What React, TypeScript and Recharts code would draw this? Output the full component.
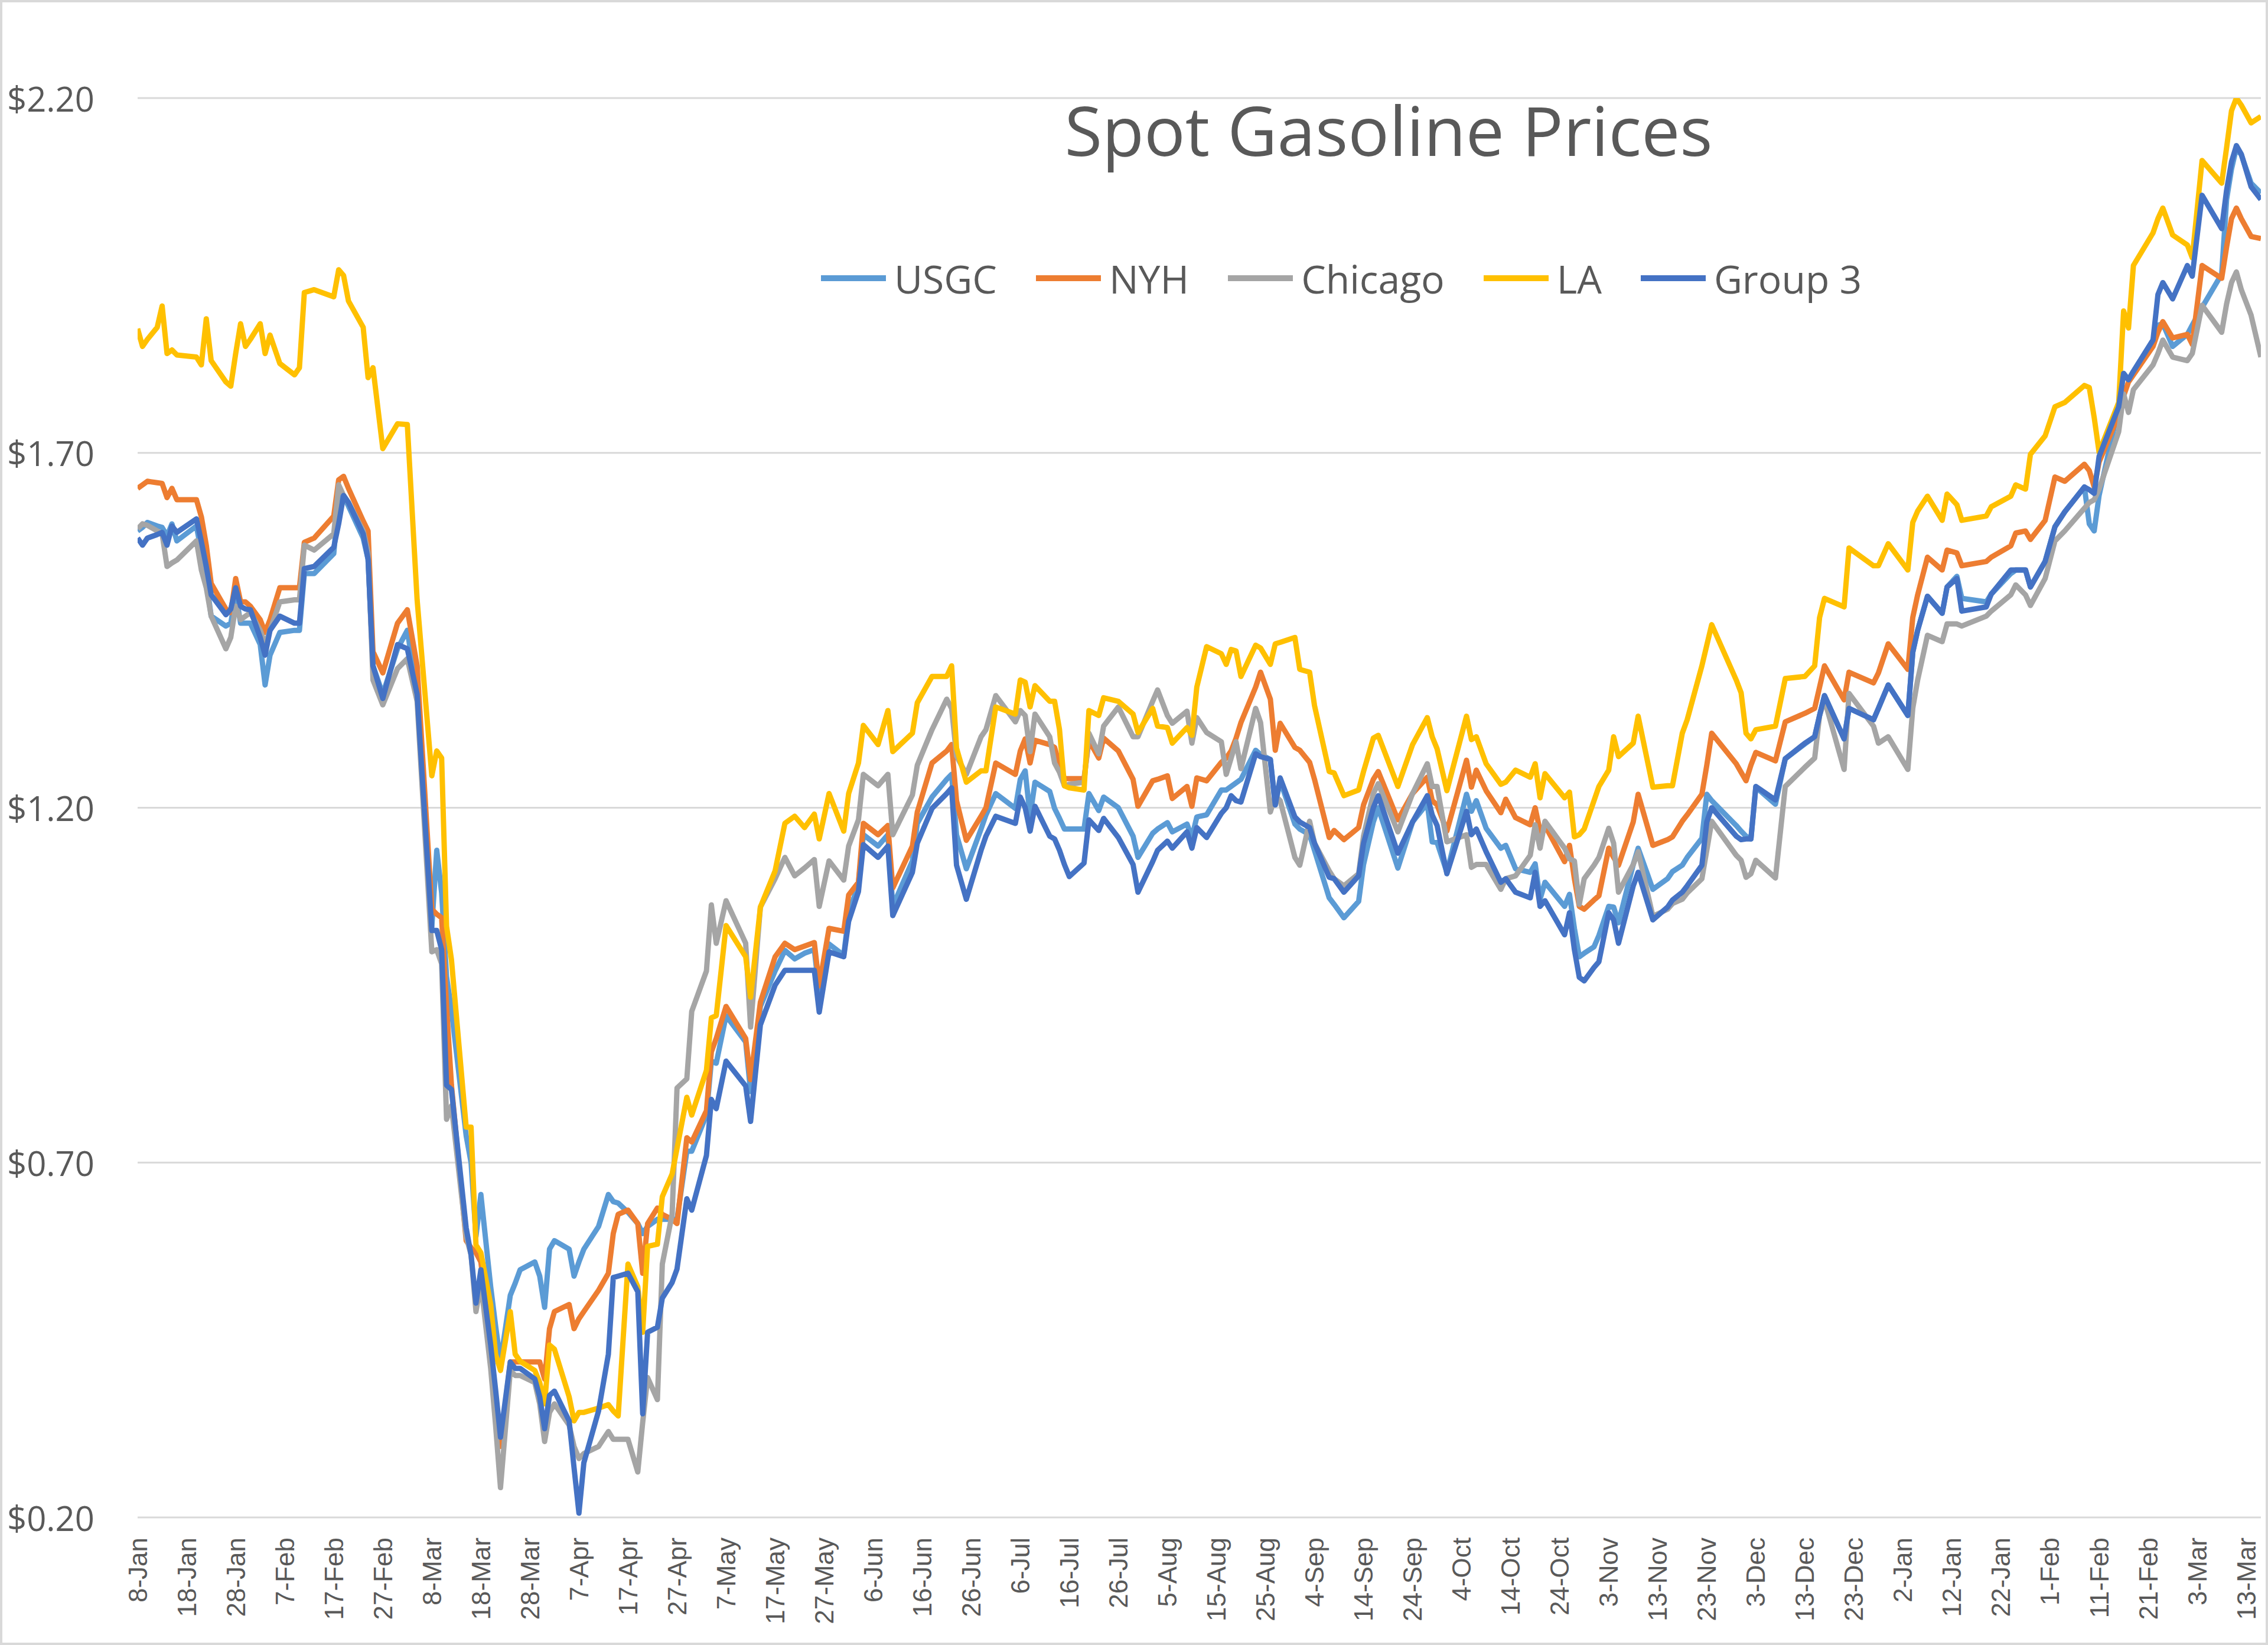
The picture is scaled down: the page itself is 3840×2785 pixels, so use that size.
import React from "react";
import { LineChart, Line, XAxis, YAxis, CartesianGrid } from "recharts";

// calendar days since 8-Jan-2020, one entry per reading taken off the chart
const dayIndex = [
  0, 1, 2, 4, 5, 6, 7, 8, 12, 13,
  14, 15, 18, 19, 20, 21, 22, 23, 25, 26,
  27, 29, 32, 33, 34, 36, 40, 41, 42, 43,
  46, 47, 48, 50, 53, 55, 57, 60, 61, 62,
  63, 64, 67, 68, 69, 70, 72, 73, 74, 76,
  77, 78, 81, 82, 83, 84, 85, 88, 89, 90,
  91, 94, 96, 97, 98, 100, 102, 103, 104, 106,
  107, 109, 110, 112, 113, 116, 117, 118, 120, 124,
  125, 127, 130, 132, 134, 136, 138, 139, 141, 144,
  145, 147, 148, 151, 153, 154, 158, 159, 162, 165,
  166, 167, 169, 172, 173, 175, 179, 180, 181, 182,
  183, 186, 187, 188, 189, 190, 193, 194, 196, 197,
  200, 203, 204, 207, 208, 210, 211, 214, 215, 216,
  218, 221, 222, 223, 224, 225, 228, 229, 231, 232,
  233, 236, 237, 239, 240, 243, 244, 246, 249, 250,
  252, 253, 257, 260, 263, 264, 265, 267, 271, 272,
  273, 275, 278, 279, 281, 284, 285, 286, 287, 291,
  292, 293, 294, 295, 297, 298, 300, 301, 302, 305,
  306, 309, 312, 313, 315, 316, 319, 320, 321, 326,
  327, 328, 329, 330, 334, 336, 340, 342, 343, 344,
  348, 349, 354, 355, 357, 361, 362, 363, 365, 368,
  369, 371, 372, 377, 378, 382, 383, 385, 386, 389,
  391, 393, 397, 398, 399, 400, 404, 405, 406, 407,
  411, 412, 413, 415, 418, 419, 421, 425, 426, 427,
  428, 429, 431, 433,
];

const usgc = [
  1.59, 1.595, 1.602, 1.597, 1.595, 1.583, 1.6, 1.576, 1.597, 1.56,
  1.52, 1.47, 1.456, 1.46, 1.502, 1.46, 1.46, 1.46, 1.43, 1.373,
  1.415, 1.447, 1.45, 1.45, 1.53, 1.53, 1.558, 1.637, 1.64, 1.625,
  1.58, 1.55, 1.4, 1.36, 1.424, 1.45, 1.36, 1.033, 1.14, 1.08,
  0.962, 0.915, 0.738, 0.7, 0.596, 0.655, 0.525, 0.47, 0.419, 0.513,
  0.53, 0.549, 0.56, 0.54, 0.496, 0.578, 0.59, 0.578, 0.54, 0.56,
  0.578, 0.61, 0.655, 0.645, 0.643, 0.63, 0.614, 0.6, 0.61, 0.62,
  0.62, 0.62, 0.62, 0.716, 0.716, 0.767, 0.843, 0.84, 0.907, 0.87,
  0.8, 0.92, 0.97, 0.999, 0.987, 0.995, 1.0, 0.939, 1.008, 0.992,
  1.05, 1.093, 1.162, 1.146, 1.162, 1.061, 1.125, 1.178, 1.215, 1.24,
  1.247, 1.162, 1.114, 1.17, 1.19, 1.22, 1.199, 1.24, 1.252, 1.188,
  1.236, 1.223, 1.199, 1.185, 1.17, 1.17, 1.17, 1.22, 1.196, 1.215,
  1.2, 1.16, 1.13, 1.164, 1.17, 1.179, 1.166, 1.177, 1.158, 1.187,
  1.19, 1.225, 1.225, 1.23, 1.235, 1.24, 1.281, 1.275, 1.268, 1.204,
  1.238, 1.177, 1.17, 1.162, 1.14, 1.073, 1.064, 1.045, 1.068, 1.12,
  1.18, 1.2, 1.115, 1.18, 1.206, 1.152, 1.151, 1.109, 1.219, 1.195,
  1.21, 1.171, 1.143, 1.147, 1.114, 1.109, 1.121, 1.071, 1.095, 1.061,
  1.078, 1.03, 0.99, 0.995, 1.004, 1.02, 1.061, 1.06, 1.038, 1.12,
  1.143, 1.085, 1.1, 1.11, 1.119, 1.13, 1.157, 1.219, 1.21, 1.175,
  1.167, 1.16, 1.156, 1.229, 1.205, 1.269, 1.29, 1.3, 1.33, 1.358,
  1.297, 1.34, 1.324, 1.34, 1.373, 1.33, 1.419, 1.45, 1.498, 1.474,
  1.511, 1.526, 1.495, 1.49, 1.501, 1.53, 1.535, 1.535, 1.511, 1.547,
  1.596, 1.617, 1.652, 1.6, 1.59, 1.64, 1.765, 1.812, 1.803, 1.815,
  1.859, 1.88, 1.882, 1.85, 1.867, 1.88, 1.905, 1.952, 2.057, 2.1,
  2.13, 2.12, 2.08, 2.066,
];

const nyh = [
  1.65, 1.655, 1.66, 1.658, 1.657, 1.637, 1.65, 1.634, 1.634, 1.61,
  1.57, 1.516, 1.48, 1.475, 1.523, 1.49, 1.49, 1.484, 1.465, 1.447,
  1.465, 1.51, 1.51, 1.51, 1.574, 1.58, 1.611, 1.662, 1.667, 1.65,
  1.604, 1.59, 1.42, 1.39, 1.46, 1.479, 1.4, 1.057, 1.05, 1.045,
  0.92, 0.809, 0.59, 0.58, 0.573, 0.56, 0.443, 0.37, 0.3, 0.419,
  0.419, 0.419, 0.419, 0.419, 0.395, 0.466, 0.49, 0.5, 0.466, 0.48,
  0.49, 0.52, 0.544, 0.6, 0.627, 0.633, 0.614, 0.544, 0.614, 0.636,
  0.627, 0.62, 0.614, 0.735, 0.729, 0.773, 0.856, 0.875, 0.92, 0.875,
  0.817, 0.926, 0.99, 1.009, 1.0, 1.005, 1.01, 0.949, 1.03, 1.026,
  1.077, 1.095, 1.178, 1.162, 1.175, 1.087, 1.146, 1.194, 1.263, 1.28,
  1.289, 1.21, 1.154, 1.188, 1.2, 1.263, 1.247, 1.28, 1.297, 1.263,
  1.295, 1.289, 1.285, 1.26, 1.241, 1.241, 1.241, 1.295, 1.27, 1.298,
  1.28, 1.24, 1.202, 1.238, 1.24, 1.245, 1.213, 1.23, 1.202, 1.242,
  1.238, 1.264, 1.27, 1.28, 1.298, 1.32, 1.37, 1.391, 1.353, 1.281,
  1.319, 1.285, 1.281, 1.264, 1.24, 1.158, 1.168, 1.155, 1.172, 1.204,
  1.24, 1.251, 1.183, 1.22, 1.243, 1.21, 1.204, 1.167, 1.267, 1.229,
  1.253, 1.224, 1.193, 1.212, 1.186, 1.176, 1.2, 1.167, 1.175, 1.124,
  1.147, 1.1, 1.061, 1.057, 1.07, 1.076, 1.143, 1.13, 1.119, 1.18,
  1.219, 1.147, 1.155, 1.159, 1.181, 1.19, 1.219, 1.26, 1.305, 1.262,
  1.25, 1.238, 1.26, 1.278, 1.266, 1.321, 1.333, 1.34, 1.37, 1.4,
  1.352, 1.391, 1.376, 1.39, 1.431, 1.395, 1.468, 1.5, 1.553, 1.535,
  1.563, 1.559, 1.541, 1.547, 1.553, 1.569, 1.587, 1.59, 1.578, 1.605,
  1.666, 1.66, 1.684, 1.675, 1.652, 1.687, 1.754, 1.78, 1.8, 1.81,
  1.85, 1.87, 1.885, 1.862, 1.867, 1.853, 1.964, 1.946, 1.99, 2.03,
  2.045, 2.03, 2.005, 2.002,
];

const chicago = [
  1.593, 1.6, 1.598, 1.59, 1.586, 1.54, 1.545, 1.549, 1.576, 1.535,
  1.51, 1.47, 1.424, 1.44, 1.484, 1.465, 1.47, 1.475, 1.45, 1.43,
  1.45, 1.49, 1.493, 1.493, 1.57, 1.563, 1.586, 1.655, 1.64, 1.63,
  1.59, 1.56, 1.38, 1.345, 1.396, 1.41, 1.35, 0.997, 1.0, 0.98,
  0.761, 0.78, 0.596, 0.57, 0.49, 0.53, 0.41, 0.33, 0.242, 0.407,
  0.4, 0.4, 0.39, 0.36, 0.307, 0.348, 0.36, 0.33, 0.3, 0.283,
  0.29, 0.3, 0.321, 0.31, 0.31, 0.31, 0.264, 0.334, 0.397, 0.366,
  0.557, 0.627, 0.805, 0.818, 0.913, 0.97, 1.063, 1.009, 1.069, 1.009,
  0.891, 1.06, 1.1, 1.13, 1.104, 1.115, 1.127, 1.061, 1.125, 1.098,
  1.146, 1.183, 1.247, 1.231, 1.247, 1.162, 1.218, 1.26, 1.31, 1.353,
  1.34, 1.273, 1.247, 1.3, 1.31, 1.358, 1.321, 1.337, 1.33, 1.279,
  1.332, 1.3, 1.263, 1.25, 1.231, 1.233, 1.236, 1.305, 1.276, 1.315,
  1.342, 1.3, 1.3, 1.35, 1.366, 1.33, 1.319, 1.336, 1.291, 1.327,
  1.306, 1.293, 1.247, 1.27, 1.293, 1.255, 1.34, 1.32, 1.194, 1.217,
  1.21, 1.13, 1.119, 1.181, 1.15, 1.111, 1.1, 1.09, 1.107, 1.16,
  1.22, 1.234, 1.166, 1.22, 1.262, 1.23, 1.23, 1.152, 1.162, 1.116,
  1.12, 1.12, 1.085, 1.1, 1.104, 1.133, 1.176, 1.143, 1.181, 1.143,
  1.128, 1.125, 1.064, 1.1, 1.119, 1.13, 1.171, 1.15, 1.081, 1.12,
  1.138, 1.047, 1.057, 1.065, 1.071, 1.08, 1.1, 1.14, 1.181, 1.133,
  1.126, 1.102, 1.107, 1.126, 1.101, 1.23, 1.257, 1.27, 1.33, 1.352,
  1.254, 1.361, 1.315, 1.291, 1.3, 1.254, 1.34, 1.38, 1.443, 1.434,
  1.459, 1.459, 1.456, 1.47, 1.477, 1.5, 1.514, 1.5, 1.485, 1.523,
  1.576, 1.59, 1.622, 1.63, 1.634, 1.649, 1.73, 1.783, 1.757, 1.789,
  1.824, 1.84, 1.859, 1.835, 1.83, 1.84, 1.908, 1.87, 1.91, 1.94,
  1.955, 1.93, 1.894, 1.835,
];

const la = [
  1.875, 1.85, 1.86, 1.877, 1.907, 1.84, 1.845, 1.838, 1.835, 1.824,
  1.889, 1.83, 1.8, 1.794, 1.84, 1.882, 1.85, 1.86, 1.882, 1.84,
  1.866, 1.826, 1.81, 1.82, 1.926, 1.93, 1.92, 1.958, 1.95, 1.914,
  1.877, 1.806, 1.82, 1.706, 1.741, 1.74, 1.493, 1.245, 1.28, 1.27,
  1.033, 0.986, 0.75, 0.75, 0.584, 0.573, 0.5, 0.43, 0.407, 0.49,
  0.43, 0.42, 0.407, 0.39, 0.36, 0.443, 0.437, 0.37, 0.336, 0.348,
  0.348, 0.354, 0.359, 0.35, 0.343, 0.557, 0.525, 0.461, 0.582, 0.585,
  0.652, 0.684, 0.72, 0.792, 0.767, 0.83, 0.904, 0.907, 1.034, 0.99,
  0.933, 1.06, 1.111, 1.178, 1.188, 1.172, 1.191, 1.156, 1.22, 1.167,
  1.22, 1.263, 1.316, 1.289, 1.337, 1.279, 1.305, 1.348, 1.385, 1.385,
  1.4, 1.284, 1.236, 1.252, 1.252, 1.342, 1.332, 1.38, 1.377, 1.342,
  1.372, 1.35, 1.35, 1.31, 1.231, 1.228, 1.225, 1.337, 1.33, 1.355,
  1.35, 1.332, 1.306, 1.34, 1.315, 1.313, 1.291, 1.313, 1.302, 1.37,
  1.427, 1.417, 1.402, 1.423, 1.421, 1.385, 1.429, 1.425, 1.402, 1.431,
  1.433, 1.44, 1.395, 1.391, 1.344, 1.251, 1.249, 1.217, 1.225, 1.251,
  1.298, 1.302, 1.23, 1.289, 1.327, 1.3, 1.283, 1.224, 1.329, 1.296,
  1.3, 1.262, 1.233, 1.236, 1.253, 1.243, 1.262, 1.214, 1.248, 1.214,
  1.222, 1.159, 1.162, 1.17, 1.21, 1.23, 1.253, 1.3, 1.272, 1.291,
  1.329, 1.229, 1.231, 1.231, 1.305, 1.324, 1.4, 1.429, 1.458, 1.38,
  1.362, 1.305, 1.297, 1.31, 1.315, 1.382, 1.385, 1.4, 1.468, 1.495,
  1.483, 1.566, 1.541, 1.541, 1.572, 1.535, 1.602, 1.618, 1.639, 1.605,
  1.642, 1.627, 1.605, 1.611, 1.624, 1.639, 1.655, 1.649, 1.698, 1.724,
  1.765, 1.771, 1.795, 1.792, 1.75, 1.701, 1.771, 1.9, 1.876, 1.964,
  2.01, 2.03, 2.045, 2.007, 1.993, 1.975, 2.112, 2.08, 2.13, 2.182,
  2.2, 2.19, 2.165, 2.174,
];

const group3 = [
  1.58, 1.57, 1.58, 1.585, 1.588, 1.57, 1.597, 1.588, 1.607, 1.575,
  1.54, 1.5, 1.472, 1.48, 1.51, 1.484, 1.48, 1.479, 1.44, 1.415,
  1.45, 1.47, 1.46, 1.46, 1.537, 1.54, 1.567, 1.6, 1.64, 1.63,
  1.586, 1.55, 1.4, 1.354, 1.43, 1.424, 1.36, 1.027, 1.027, 1.0,
  0.809, 0.803, 0.608, 0.57, 0.502, 0.549, 0.443, 0.38, 0.313, 0.419,
  0.41, 0.41, 0.395, 0.37, 0.325, 0.372, 0.378, 0.336, 0.27, 0.206,
  0.277, 0.35, 0.43, 0.538, 0.54, 0.544, 0.518, 0.346, 0.461, 0.468,
  0.509, 0.531, 0.55, 0.649, 0.633, 0.71, 0.789, 0.776, 0.843, 0.808,
  0.758, 0.894, 0.95, 0.971, 0.971, 0.971, 0.971, 0.912, 0.997, 0.99,
  1.04, 1.082, 1.148, 1.13, 1.146, 1.048, 1.109, 1.15, 1.199, 1.22,
  1.228, 1.119, 1.071, 1.14, 1.16, 1.188, 1.178, 1.215, 1.2, 1.167,
  1.202, 1.16, 1.156, 1.14, 1.12, 1.103, 1.122, 1.183, 1.168, 1.185,
  1.158, 1.12, 1.081, 1.124, 1.14, 1.153, 1.143, 1.166, 1.143, 1.172,
  1.158, 1.192, 1.2, 1.217, 1.21, 1.208, 1.276, 1.272, 1.268, 1.204,
  1.242, 1.187, 1.18, 1.172, 1.15, 1.102, 1.1, 1.081, 1.104, 1.15,
  1.2, 1.217, 1.136, 1.18, 1.217, 1.19, 1.175, 1.107, 1.195, 1.162,
  1.17, 1.138, 1.095, 1.1, 1.081, 1.073, 1.109, 1.061, 1.069, 1.021,
  1.052, 1.0, 0.961, 0.956, 0.975, 0.983, 1.052, 1.042, 1.009, 1.09,
  1.109, 1.042, 1.06, 1.07, 1.081, 1.09, 1.119, 1.18, 1.2, 1.16,
  1.155, 1.156, 1.156, 1.23, 1.211, 1.269, 1.291, 1.3, 1.33, 1.358,
  1.297, 1.34, 1.324, 1.34, 1.373, 1.33, 1.419, 1.45, 1.498, 1.474,
  1.511, 1.523, 1.477, 1.483, 1.501, 1.535, 1.535, 1.535, 1.511, 1.547,
  1.596, 1.617, 1.652, 1.648, 1.643, 1.695, 1.765, 1.812, 1.803, 1.815,
  1.859, 1.923, 1.94, 1.917, 1.964, 1.949, 2.063, 2.016, 2.07, 2.11,
  2.133, 2.121, 2.075, 2.057,
];

const xTickDays = [
  0, 10, 20, 30, 40, 50, 60, 70, 80, 90, 100, 110, 120, 130, 140, 150, 160, 170, 180, 190, 200, 210,
  220, 230, 240, 250, 260, 270, 280, 290, 300, 310, 320, 330, 340, 350, 360, 370, 380, 390, 400, 410,
  420, 430,
];
const xTickLabels = [
  "8-Jan", "18-Jan", "28-Jan", "7-Feb", "17-Feb", "27-Feb", "8-Mar", "18-Mar", "28-Mar", "7-Apr",
  "17-Apr", "27-Apr", "7-May", "17-May", "27-May", "6-Jun", "16-Jun", "26-Jun", "6-Jul", "16-Jul",
  "26-Jul", "5-Aug", "15-Aug", "25-Aug", "4-Sep", "14-Sep", "24-Sep", "4-Oct", "14-Oct", "24-Oct",
  "3-Nov", "13-Nov", "23-Nov", "3-Dec", "13-Dec", "23-Dec", "2-Jan", "12-Jan", "22-Jan", "1-Feb",
  "11-Feb", "21-Feb", "3-Mar", "13-Mar",
];
const yTicks = [0.2, 0.7, 1.2, 1.7, 2.2];

const series = [
  { key: "usgc", name: "USGC", color: "#5B9BD5" },
  { key: "nyh", name: "NYH", color: "#ED7D31" },
  { key: "chicago", name: "Chicago", color: "#A5A5A5" },
  { key: "la", name: "LA", color: "#FFC000" },
  { key: "group3", name: "Group 3", color: "#4472C4" },
];

const rows = dayIndex.map((d, i) => ({
  d,
  usgc: usgc[i],
  nyh: nyh[i],
  chicago: chicago[i],
  la: la[i],
  group3: group3[i],
}));

const TEXT = "#595959";
const SANS = "'Open Sans', 'Noto Sans', sans-serif";

function XTick(props: any) {
  const { x, payload } = props;
  const label = xTickLabels[xTickDays.indexOf(payload.value)];
  return (
    <text
      x={0}
      y={0}
      transform={`translate(${x},2603) rotate(-90)`}
      textAnchor="end"
      dominantBaseline="central"
      fontSize={44}
      fill={TEXT}
      fontFamily="'Liberation Sans', Arial, sans-serif"
    >
      {label}
    </text>
  );
}

function YTick(props: any) {
  const { y, payload } = props;
  return (
    <text x={12} y={y} dominantBaseline="central" textAnchor="start" fontSize={58} fill={TEXT} fontFamily={SANS}>
      {"$" + Number(payload.value).toFixed(2)}
    </text>
  );
}

export default function App() {
  return (
    <div style={{ position: "absolute", left: 0, top: 0, width: 3840, height: 2785, background: "#fff", overflow: "hidden" }}>
      <LineChart width={3840} height={2785} data={rows} margin={{ top: 166, right: 12, bottom: 0, left: 0 }}>
        <CartesianGrid vertical={false} stroke="#d9d9d9" strokeWidth={3} />
        <XAxis
          dataKey="d"
          type="number"
          domain={[0, 433]}
          allowDataOverflow
          ticks={xTickDays}
          interval={0}
          tick={XTick}
          tickLine={false}
          axisLine={false}
          height={216}
        />
        <YAxis
          type="number"
          domain={[0.2, 2.2]}
          allowDataOverflow
          ticks={yTicks}
          interval={0}
          tick={YTick}
          tickLine={false}
          axisLine={false}
          width={233}
        />
        {series.map((s) => (
          <Line
            key={s.key}
            type="linear"
            dataKey={s.key}
            name={s.name}
            stroke={s.color}
            strokeWidth={9}
            strokeLinejoin="round"
            dot={false}
            activeDot={false}
            isAnimationActive={false}
          />
        ))}
      </LineChart>

      <div
        style={{
          position: "absolute",
          top: 161,
          left: 2351,
          transform: "translateX(-50%)",
          whiteSpace: "nowrap",
          fontFamily: SANS,
          fontSize: 116,
          lineHeight: "116px",
          color: TEXT,
        }}
      >
        Spot Gasoline Prices
      </div>

      <div style={{ position: "absolute", top: 438, left: 1390, height: 66, display: "flex", alignItems: "center" }}>
        {series.map((s) => (
          <div key={s.key} style={{ display: "flex", alignItems: "center", marginRight: 66 }}>
            <span style={{ display: "inline-block", width: 110, height: 10, background: s.color, marginRight: 14 }} />
            <span style={{ fontFamily: SANS, fontSize: 66, lineHeight: "66px", color: TEXT, whiteSpace: "nowrap" }}>
              {s.name}
            </span>
          </div>
        ))}
      </div>

      <div
        style={{
          position: "absolute",
          inset: 0,
          border: "4px solid #d9d9d9",
          boxSizing: "border-box",
          pointerEvents: "none",
        }}
      />
    </div>
  );
}
